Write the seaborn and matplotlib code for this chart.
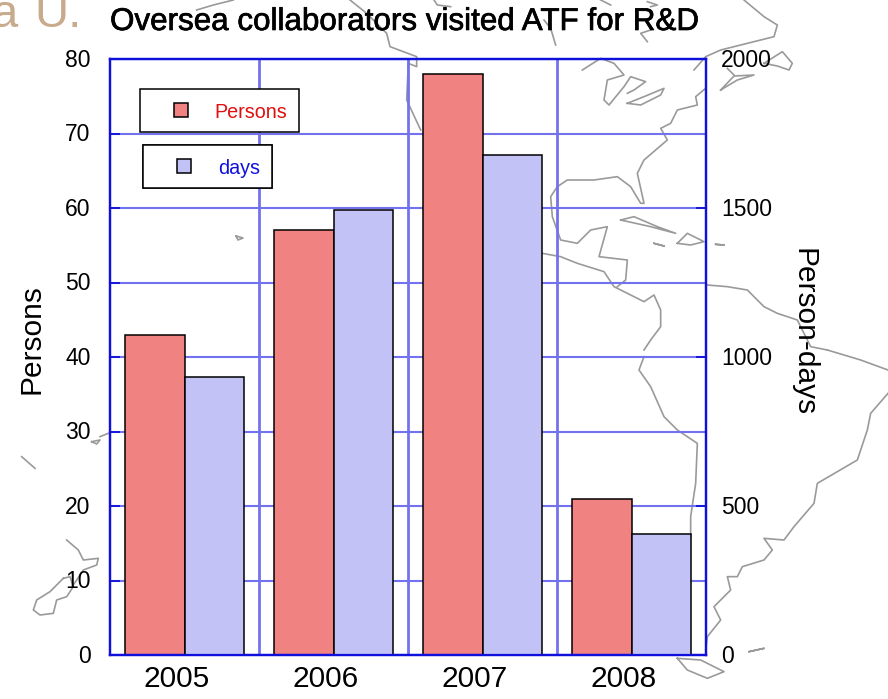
import matplotlib
matplotlib.use('Agg')
import matplotlib.patheffects as pe
import matplotlib.pyplot as plt
import pandas as pd
import seaborn as sns
from matplotlib.legend_handler import HandlerPatch
from matplotlib.patches import Patch, Rectangle
from matplotlib.transforms import ScaledTranslation

years = ['2005', '2006', '2007', '2008']
persons = [43, 57, 78, 21]
person_days = [933, 1493, 1678, 406]

persons_ticks = list(range(0, 81, 10))
days_ticks = [0, 500, 1000, 1500, 2000]

RED = '#f08282'
BLUE = '#c2c2f6'
SPINE = '#1010dd'
GRID = '#7272ee'
COAST = '#9a9a9a'

# background map outlines: (offset x, offset y, points at 3x)
coast_top = [
    [(590, 30), (640, 15), (700, 0)],
    [(1050, 0), (1100, 40), (1160, 100), (1170, 140), (1250, 170), (1250, 200), (1225, 190), (1220, 300), (1262, 390)],
]
coast_right = [
    [(-30, 0), (-20, 15), (20, 20)],
    [(335, 135), (320, 85), (300, 60)],
    [(610, 125), (590, 100), (620, 90)],
    [(470, 0), (500, 15)],
    [(610, 5), (640, 15), (620, 20)],
    [(900, 0), (960, 50), (1000, 75), (990, 110), (950, 120), (890, 135), (830, 150), (785, 170), (750, 210)],
    [(960, 190), (1015, 155), (1045, 190), (1035, 210), (1000, 198), (960, 190)],
    [(830, 270), (880, 240), (930, 225), (870, 228), (830, 270)],
    [(850, 205), (870, 225)],
    [(415, 210), (470, 175), (510, 190), (540, 225), (490, 240), (480, 300), (495, 315), (540, 260), (560, 230), (605, 245), (570, 270), (550, 280)],
    [(550, 310), (600, 290), (660, 265), (650, 285), (590, 315), (550, 310)],
    [(785, 265), (755, 290), (760, 315), (700, 330), (680, 370), (650, 385), (670, 420), (600, 480), (580, 520), (600, 610), (590, 610), (560, 560), (520, 530), (450, 540), (370, 540), (340, 560), (320, 590), (325, 650), (350, 720), (400, 730), (440, 690), (490, 680), (465, 770), (550, 780), (545, 840), (520, 860)],
    [(530, 660), (570, 650), (640, 680), (695, 700), (620, 680), (530, 660)],
    [(700, 730), (730, 700), (780, 725), (740, 735), (700, 730)],
    [(815, 733), (840, 735), (815, 733)],
    [(630, 730), (660, 738), (630, 730)],
    [(295, 760), (350, 770), (400, 790), (480, 815), (510, 860), (560, 885), (600, 905), (630, 885), (650, 930), (650, 980), (620, 1020), (600, 1050)],
    [(790, 855), (850, 860), (910, 870), (960, 920), (1000, 940), (1060, 960), (1100, 1040), (1150, 1050)],
]
coast_low = [
    [(600, 20), (585, 60), (620, 110), (660, 200), (700, 240), (760, 280), (755, 400), (740, 500), (740, 560)],
    [(1150, 0), (1250, 30), (1332, 60)],
    [(1332, 130), (1280, 190), (1270, 240), (1240, 330), (1180, 365), (1120, 400), (1110, 460), (1050, 530), (1020, 570), (960, 565), (985, 600), (960, 630), (895, 650), (880, 680), (850, 680), (860, 720), (810, 770), (830, 810), (790, 860), (785, 900)],
    [(700, 925), (770, 930), (840, 965), (790, 985), (730, 960), (700, 925)],
    [(915, 905), (960, 895), (915, 905)],
]
coast_left = [
    [(65, 170), (105, 205)],
    [(275, 125), (300, 120), (290, 132), (275, 125)],
    [(300, 110), (325, 100)],
    [(200, 420), (235, 450), (250, 480), (295, 475), (290, 495), (250, 510), (220, 555)],
    [(190, 535), (210, 530), (220, 560), (200, 590), (170, 600), (160, 640), (120, 645), (100, 630), (110, 600), (150, 575), (190, 535)],
]
coast_dots = [[(236, 236), (243, 238), (238, 240), (236, 236)]]

persons_df = pd.DataFrame({'year': years, 'value': persons, 'series': 'Persons'})
days_df = pd.DataFrame({'year': years, 'value': person_days, 'series': 'days'})
series_order = ['Persons', 'days']
colors = {'Persons': RED, 'days': BLUE}

plt.rcParams['font.family'] = ['Liberation Sans', 'DejaVu Sans']

fig = plt.figure(figsize=(8.88, 6.99), dpi=100)

# map layer in pixel coordinates, behind everything
bg = fig.add_axes([0, 0, 1, 1], zorder=0)
bg.set_xlim(0, 888)
bg.set_ylim(699, 0)
bg.axis('off')
for group, dx, dy in [(coast_top, 0, 0), (coast_right, 444, 0), (coast_low, 444, 350), (coast_left, 0, 400)]:
    for line in group:
        bg.plot([dx + p[0] / 3 for p in line], [dy + p[1] / 3 for p in line], color=COAST, lw=1.2)
for line in coast_dots:
    bg.plot([p[0] for p in line], [p[1] for p in line], color=COAST, lw=1.2)
bg.text(-8, 27, 'a', fontsize=34, color='#c8aa8c', va='baseline', ha='left')
bg.text(34, 27, 'U.', fontsize=34, color='#c8aa8c', va='baseline', ha='left')

ax = fig.add_axes([110 / 888, 1 - 655 / 699, 596 / 888, 596 / 699], zorder=1)
ax.patch.set_alpha(0)
sns.barplot(data=persons_df, x='year', y='value', hue='series', hue_order=series_order,
            palette=colors, width=0.8, dodge=True, saturation=1, edgecolor='black', linewidth=1.1,
            legend=False, ax=ax)
ax.set_xlim(-0.5, 3.5)
ax.set_ylim(0, 80)
ax.set_yticks(persons_ticks)
ax.set_xticks([0.5, 1.5, 2.5], minor=True)
ax.set_axisbelow(True)
ax.grid(True, which='major', axis='y', color=GRID, lw=1.5)
ax.grid(True, which='minor', axis='x', color=GRID, lw=2)
ax.grid(False, which='major', axis='x')
ax.tick_params(axis='y', direction='in', length=7, width=1.3, color=SPINE, labelsize=16.5, pad=14)
ax.tick_params(axis='x', which='both', length=0, labelsize=21.5, pad=7)
for label in ax.get_xticklabels():
    label.set_transform(label.get_transform() + ScaledTranslation(-8 / 100, 0, fig.dpi_scale_trans))
for label in ax.get_yticklabels():
    label.set_transform(label.get_transform() + ScaledTranslation(0, 1.3 / 100, fig.dpi_scale_trans))
ax.set_xlabel('')
ax.set_ylabel('Persons', fontsize=21.5)
ax.yaxis.set_label_coords(-0.132 + 14 / 596, 0.53)

ax2 = ax.twinx()
ax2.set_zorder(2)
ax2.patch.set_alpha(0)
sns.barplot(data=days_df, x='year', y='value', hue='series', hue_order=series_order,
            palette=colors, width=0.8, dodge=True, saturation=1, edgecolor='black', linewidth=1.1,
            legend=False, ax=ax2)
ax2.set_xlim(-0.5, 3.5)
ax2.set_ylim(0, 2000)
ax2.set_yticks(days_ticks)
ax2.yaxis.tick_right()
ax2.tick_params(axis='y', direction='in', length=7, width=1.3, color=SPINE, labelsize=16.5, pad=11)
for label in ax2.get_yticklabels():
    label.set_transform(label.get_transform() + ScaledTranslation(0, 1.3 / 100, fig.dpi_scale_trans))
ax2.yaxis.set_label_position('right')
ax2.set_ylabel('Person-days', fontsize=21.5, rotation=-90, va='center')
ax2.yaxis.set_label_coords(1.163, 0.542)
ax2.set_xlabel('')

for a in (ax, ax2):
    for spine in a.spines.values():
        spine.set_visible(True)
        spine.set_color(SPINE)
        spine.set_linewidth(1.6)


def legend_square(legend, orig_handle, xdescent, ydescent, width, height, fontsize):
    return Rectangle((16, height / 2 - 6), 10, 10)


def add_key(label, color, text_color, left, top):
    leg = ax2.legend(handles=[Patch(facecolor=color, edgecolor='black', linewidth=1.1, label=label)],
                     loc='upper left', bbox_to_anchor=(left / 888, 1 - top / 699),
                     bbox_transform=fig.transFigure, borderaxespad=0, borderpad=0.6,
                     handlelength=3.19, handletextpad=0, fontsize=14.2, fancybox=False,
                     framealpha=1, edgecolor='black', labelcolor=text_color,
                     handler_map={Patch: HandlerPatch(patch_func=legend_square)})
    leg.get_frame().set_linewidth(1.1)
    leg.get_texts()[0].set_y(-2)
    ax2.add_artist(leg)


add_key('Persons', RED, '#e01010', 140, 89)
add_key('days', BLUE, '#1010dd', 143, 145)

fig.text(110 / 888, 1 - 30 / 699, 'Oversea collaborators visited ATF for R&D', fontsize=22.6,
         color='black', ha='left', va='baseline',
         path_effects=[pe.withStroke(linewidth=0.5, foreground='black')])

fig.savefig('out.png', dpi=100)
